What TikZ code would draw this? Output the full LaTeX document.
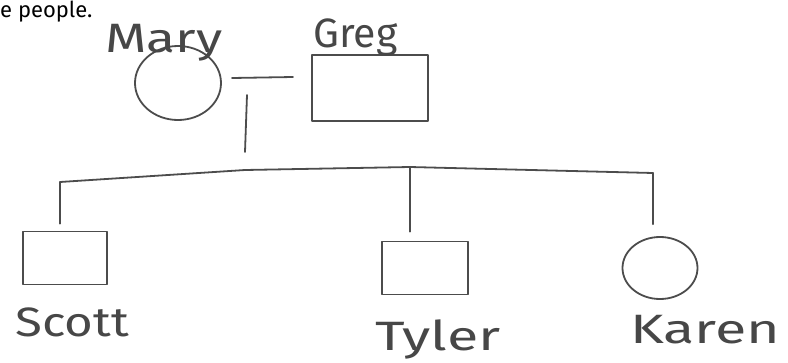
\documentclass[tikz,border=0pt]{standalone}
\usepackage{fontspec}
\setmainfont{Fira Sans}
\newfontfamily\hand{Fira Sans}
\usetikzlibrary{shapes.geometric}
\tikzset{
  pen/.style={draw=black!70, line width=1.8pt, line cap=round, line join=round},
  female/.style={pen, ellipse, inner sep=0pt},
  male/.style={pen, rectangle, inner sep=0pt},
  personlabel/.style={font=\hand\fontsize{41}{41}\selectfont, anchor=base west, inner sep=0pt, text=black!72},
}
\begin{document}
\begin{tikzpicture}[x=1pt,y=-1pt]
\useasboundingbox (0,0) rectangle (788,362);
\clip (0,0) rectangle (788,362);

% heading fragment
\node[font=\fontsize{22}{22}\selectfont, anchor=base west, inner sep=0pt] (head) at (0,17) {e people.};

% parents
\node[female, minimum width=86pt, minimum height=74pt] (mary) at (178,83) {};
\node[male, minimum width=116pt, minimum height=66pt] (greg) at (370,88) {};
\node[personlabel, xscale=1.3] (maryname) at (105,52) {Mary};
\node[personlabel, xscale=1.0] (gregname) at (313,47) {Greg};

% children
\node[male, minimum width=84pt, minimum height=53pt] (scott) at (65,258) {};
\node[male, minimum width=86pt, minimum height=53pt] (tyler) at (425,268) {};
\node[female, minimum width=75pt, minimum height=62pt] (karen) at (660,268) {};
\node[personlabel, xscale=1.2] (scottname) at (15,336) {Scott};
\node[personlabel, xscale=1.4] (tylername) at (375,350) {Tyler};
\node[personlabel, xscale=1.4] (karenname) at (630,343) {Karen};

% marriage line and descent
\coordinate (wedL) at (232,78);
\coordinate (wedR) at (293,77);
\coordinate (dropTop) at (247,95);
\coordinate (dropEnd) at (245,152);
\draw[pen] (wedL) -- (wedR);
\draw[pen] (dropTop) -- (dropEnd);

% sibling bar
\coordinate (sibL) at (60,182);
\coordinate (sibM) at (245,170);
\coordinate (sibT) at (410,167);
\coordinate (sibR) at (653,173);
\draw[pen] (sibL) -- (sibM) -- (sibT) -- (sibR);

% drops to each child
\draw[pen, shorten >=7pt] (sibL) -- (sibL |- scott.north);
\draw[pen, shorten >=9pt] (sibT) -- (sibT |- tyler.north);
\draw[pen, shorten >=12pt] (sibR) -- (sibR |- karen.north);
\end{tikzpicture}
\end{document}
